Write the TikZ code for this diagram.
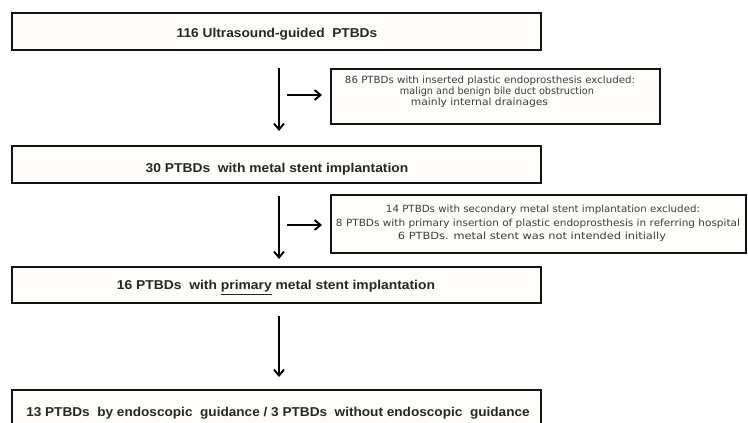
\documentclass[tikz,border=0pt]{standalone}
\usepackage{fontspec}
\usepackage{graphicx}
\setmainfont{Liberation Sans}
\newfontfamily\smallfont{DejaVu Sans}
\usetikzlibrary{arrows.meta}
\definecolor{boxfill}{RGB}{254,253,249}
\definecolor{boxline}{RGB}{18,18,18}
\definecolor{maintext}{RGB}{38,38,38}
\definecolor{smalltext}{RGB}{60,60,66}
\newcommand{\fitline}[3]{\resizebox{#1}{#2}{#3}}
\begin{document}
\begin{tikzpicture}[x=1pt,y=-1pt,
  box/.style={draw=boxline,fill=boxfill,line width=2pt,inner sep=0pt},
  maintxt/.style={anchor=base,inner sep=0pt,text=maintext,font=\bfseries},
  smalltxt/.style={anchor=base,inner sep=0pt,text=smalltext,font=\smallfont},
  arr/.style={draw=black,line width=1.9pt,-{Straight Barb[length=6pt,width=10pt]}}]
\clip (0,0) rectangle (748,423);
\useasboundingbox (0,0) rectangle (748,423);
\fill[white] (0,0) rectangle (748,423);

% main boxes
\node[box,minimum width=529.5pt,minimum height=36.7pt] (b1) at (276.25,31.65) {};
\node[box,minimum width=529.5pt,minimum height=37pt] (b30) at (276.25,164.5) {};
\node[box,minimum width=529.5pt,minimum height=36pt] (b16) at (276.25,285) {};
\node[box,minimum width=529.5pt,minimum height=44pt] (b13) at (276.25,412) {};
% side boxes
\node[box,minimum width=329pt,minimum height=55pt] (b86) at (495.5,96.5) {};
\node[box,minimum width=415pt,minimum height=58pt] (b14) at (538.5,223.5) {};

% main texts
\node[maintxt] (t1) at (277,37.3) {\fitline{200.5pt}{9.3pt}{116 Ultrasound-guided\ \ PTBDs}};
\node[maintxt] (t30) at (277,172) {\fitline{262.5pt}{9.3pt}{30 PTBDs\ \ with metal stent implantation}};
\node[maintxt] (t16) at (276,289.5) {\fitline{318pt}{9.3pt}{16 PTBDs\ \ with \underline{primary} metal stent implantation}};
\node[maintxt] (t13) at (278,416.5) {\fitline{503.5pt}{9.3pt}{13 PTBDs\ \ by endoscopic\ \ guidance / 3 PTBDs\ \ without endoscopic\ \ guidance}};

% side texts
\node[smalltxt] (t86a) at (490,83.5) {\fitline{290pt}{7.5pt}{86 PTBDs with inserted plastic endoprosthesis excluded:}};
\node[smalltxt] (t86b) at (497,94.5) {\fitline{194pt}{7.5pt}{malign and benign bile duct obstruction}};
\node[smalltxt] (t86c) at (479.5,105.5) {\fitline{137pt}{7.5pt}{mainly internal drainages}};
\node[smalltxt] (t14a) at (543,212.5) {\fitline{314pt}{7.5pt}{14 PTBDs with secondary metal stent implantation excluded:}};
\node[smalltxt] (t14b) at (538,226) {\fitline{404pt}{7.5pt}{8 PTBDs with primary insertion of plastic endoprosthesis in referring hospital}};
\node[smalltxt] (t14c) at (532,239.5) {\fitline{268pt}{7.5pt}{6 PTBDs. metal stent was not intended initially}};

% vertical arrows
\draw[arr,shorten <=17pt,shorten >=14pt] ([xshift=2.75pt]b1.south) -- ([xshift=2.75pt]b30.north);
\draw[arr,shorten <=12pt,shorten >=7pt] ([xshift=2.75pt]b30.south) -- ([xshift=2.75pt]b16.north);
\draw[arr,shorten <=12pt,shorten >=12pt] ([xshift=2.75pt]b16.south) -- ([xshift=2.75pt]b13.north);
% horizontal arrows
\coordinate (h1) at (287,95);
\coordinate (h2) at (287,225);
\draw[arr,shorten >=8pt] (h1) -- (b86.west |- h1);
\draw[arr,shorten >=8pt] (h2) -- (b14.west |- h2);
\end{tikzpicture}
\end{document}
